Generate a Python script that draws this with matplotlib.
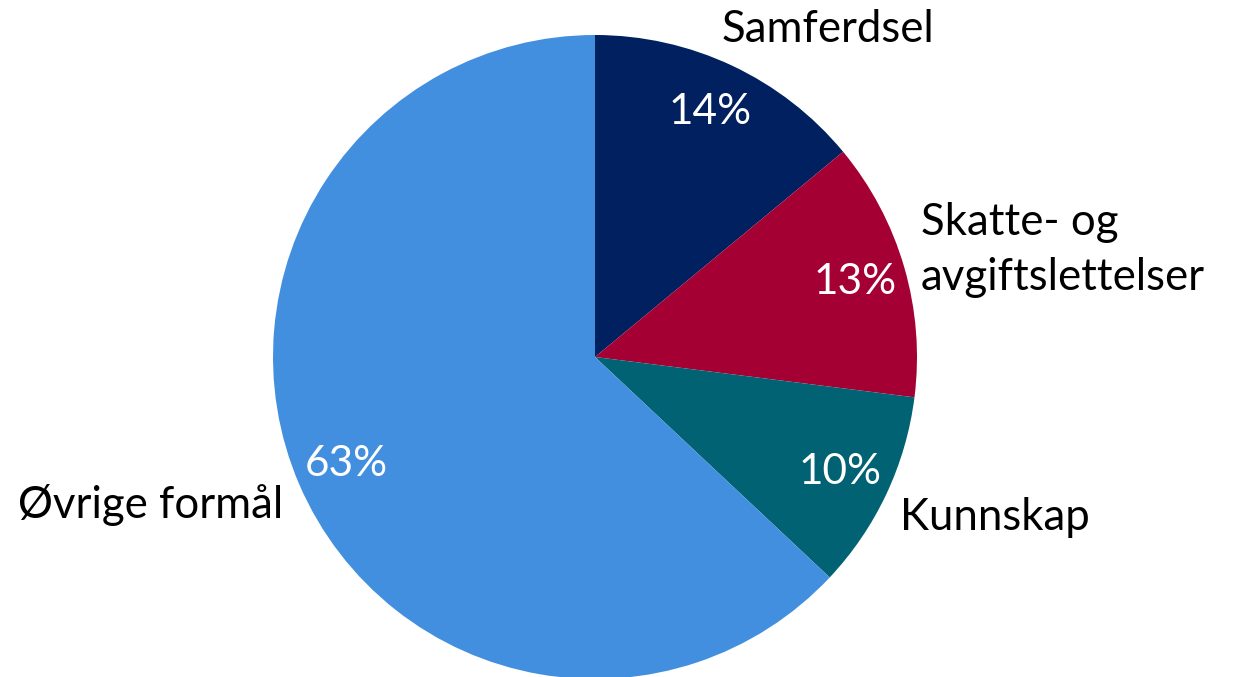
import matplotlib
matplotlib.use("Agg")
import matplotlib.pyplot as plt
import numpy as np

categories = ["Samferdsel", "Skatte- og\navgiftslettelser", "Kunnskap", "Øvrige formål"]
shares = [14, 13, 10, 63]
colors = ["#002060", "#A50034", "#006272", "#438FDF"]

plt.rcParams['font.family'] = ['Lato', 'DejaVu Sans']

W, H = 1235, 677
fig = plt.figure(figsize=(W / 100, H / 100), dpi=100)
cx, cy, R = 595, 357, 322
ax = fig.add_axes([(cx - R) / W, (H - cy - R) / H, 2 * R / W, 2 * R / H])

wedges, texts, autotexts = ax.pie(
    shares, labels=categories, colors=colors, startangle=90, counterclock=False,
    autopct=lambda p: f"{p:.0f}%", pctdistance=0.84, labeldistance=1.15,
    radius=1, wedgeprops=dict(linewidth=0),
    textprops=dict(fontsize=31.5, color="black"))
for t in autotexts:
    t.set_color("white")
    t.set_fontsize(30.5)

# label placement (Excel-style best fit)
label_pos = [(0.724, 1.016, "center"), (1.012, 0.332, "left"),
             (0.947, -0.497, "left"), (-0.969, -0.460, "right")]
for t, (x, y, ha) in zip(texts, label_pos):
    t.set_position((x, y))
    t.set_ha(ha)
    t.set_va("center")
    t.set_linespacing(1.4)

ax.set_xlim(-1, 1)
ax.set_ylim(-1, 1)
ax.set_aspect("equal")
ax.axis("off")
fig.savefig("out.png", dpi=100)
